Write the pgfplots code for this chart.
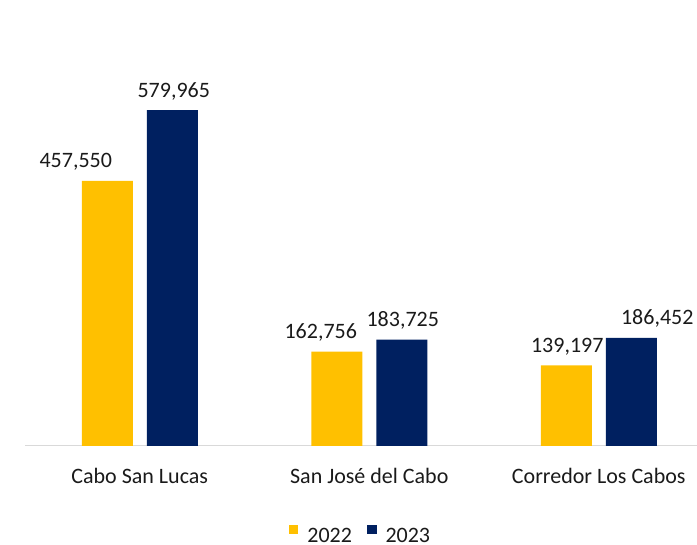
\documentclass[border=0pt]{standalone}
\usepackage{fontspec}
\setmainfont{Carlito}
\usepackage{pgfplots}
\usepackage{pgfplotstable}
\pgfplotsset{compat=1.18}
\definecolor{yel}{HTML}{FFC000}
\definecolor{navy}{HTML}{002060}
\definecolor{axgray}{HTML}{D9D9D9}
\definecolor{txt}{HTML}{1A1A1A}

% dx: horizontal offset of the value label, in px
\pgfplotstableread{
x y dx
0 457550 -31.5
1 162756 -16
2 139197 1
}\yrA
\pgfplotstableread{
x y dx
0 579965 1.5
1 183725 1
2 186452 26
}\yrB

\begin{document}
\begin{tikzpicture}
\useasboundingbox (0,0) rectangle (697pt,545pt);
\begin{axis}[
    at={(25pt,99pt)}, anchor=south west,
    scale only axis,
    width=672pt, height=446pt,
    xmin=-0.5, xmax=2.428,
    ymin=0, ymax=770000,
    ybar, bar width=51pt,
    axis y line=none,
    axis x line*=bottom,
    x axis line style={-, draw=axgray, line width=1pt},
    xtick=data,
    xticklabels={Cabo San Lucas, San José del Cabo, Corredor Los Cabos},
    major tick length=0pt,
    xticklabel style={anchor=base, inner sep=0pt, yshift=-38pt, text=txt},
    font=\fontsize{22}{26}\selectfont,
    nodes near coords,
    visualization depends on={\thisrow{dx} \as \dx},
    every node near coord/.append style={anchor=base, inner sep=0pt, yshift=13pt,
        xshift=\dx pt, text=txt, font=\fontsize{22}{26}\selectfont},
    /pgf/number format/.cd, fixed, precision=0, 1000 sep={,}, assume math mode=true,
    /pgfplots/.cd,
    legend columns=2,
    legend style={draw=none, at={(0.4993,-0.201)}, anchor=center, inner sep=0pt,
        font=\fontsize{22}{26}\selectfont, text=txt,
        /tikz/every odd column/.append style={column sep=7pt},
        /tikz/every even column/.append style={column sep=13pt}},
    legend image code/.code={\fill[#1] (0pt,2.25pt) rectangle (9.5pt,11.75pt);},
]
\addplot[fill=yel, draw=none, bar shift=-32.5pt] table[x=x, y=y] {\yrA};
\addplot[fill=navy, draw=none, bar shift=32.5pt] table[x=x, y=y] {\yrB};
\legend{2022, 2023}
\end{axis}
\end{tikzpicture}
\end{document}
